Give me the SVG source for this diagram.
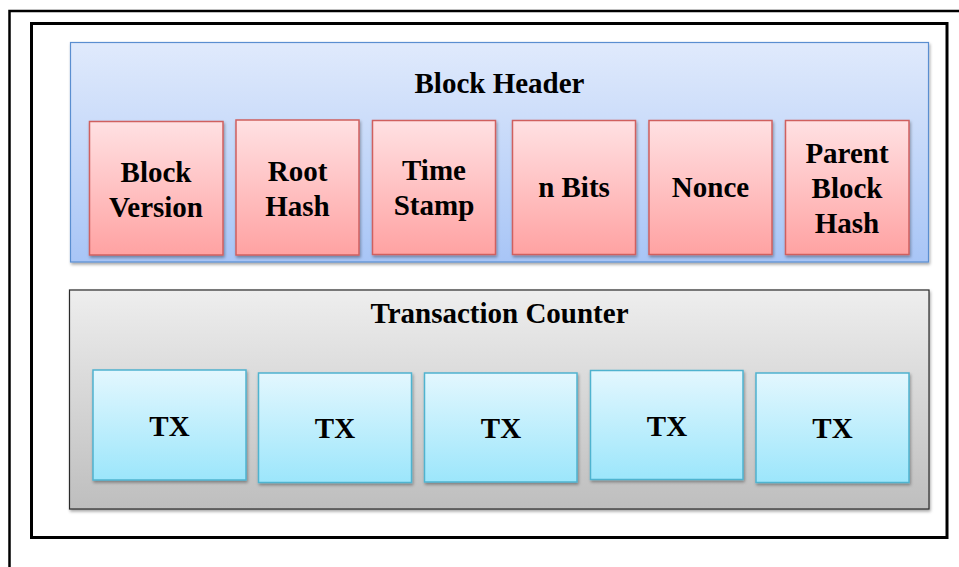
<svg xmlns="http://www.w3.org/2000/svg" width="959" height="567" viewBox="0 0 959 567">
<defs>
<linearGradient id="gBlue" x1="0" y1="0" x2="0" y2="1"><stop offset="0" stop-color="#e0eafc"/><stop offset="1" stop-color="#a8c5f6"/></linearGradient>
<linearGradient id="gRed" x1="0" y1="0" x2="0" y2="1"><stop offset="0" stop-color="#ffe1e3"/><stop offset="1" stop-color="#ffa2a2"/></linearGradient>
<linearGradient id="gGray" x1="0" y1="0" x2="0" y2="1"><stop offset="0" stop-color="#eeeeee"/><stop offset="1" stop-color="#bebebe"/></linearGradient>
<linearGradient id="gCyan" x1="0" y1="0" x2="0" y2="1"><stop offset="0" stop-color="#e3f7fe"/><stop offset="1" stop-color="#9ce6fb"/></linearGradient>
<filter id="sh" x="-10%" y="-10%" width="130%" height="130%"><feDropShadow dx="1" dy="2" stdDeviation="1.5" flood-color="#000" flood-opacity="0.35"/></filter>
</defs>
<style>
text{font-family:"Liberation Serif","Times New Roman",serif;font-weight:bold;font-size:29px;fill:#000;text-anchor:middle}
.frame{fill:none;stroke:#000}
.blue{fill:url(#gBlue);stroke:#5a8ed0;stroke-width:1.2}
.red{fill:url(#gRed);stroke:#d0605f;stroke-width:1.5}
.gray{fill:url(#gGray);stroke:#2a2a2a;stroke-width:1.2}
.cyan{fill:url(#gCyan);stroke:#4fb3cf;stroke-width:1.5}
</style>
<rect width="959" height="567" fill="#fff"/>
<g id="outer-frame">
<path class="frame" stroke-width="2.5" d="M9.5 580 V11 H970"/>
</g>
<g id="inner-frame">
<rect class="frame" stroke-width="3" x="31.5" y="23.5" width="915.5" height="514"/>
</g>
<g id="block-header">
<rect class="blue" filter="url(#sh)" x="70.5" y="42.5" width="858" height="219.5"/>
<text x="499.5" y="93">Block Header</text>
</g>
<g id="block-version">
<rect class="red" filter="url(#sh)" x="89.5" y="121.5" width="133.5" height="133.5"/>
<text x="156" y="182">Block</text><text x="156" y="217">Version</text>
</g>
<g id="root-hash">
<rect class="red" filter="url(#sh)" x="236" y="120" width="123" height="135"/>
<text x="297.5" y="181">Root</text><text x="297.5" y="216">Hash</text>
</g>
<g id="time-stamp">
<rect class="red" filter="url(#sh)" x="372.5" y="120.5" width="123" height="134"/>
<text x="434" y="180">Time</text><text x="434" y="215">Stamp</text>
</g>
<g id="n-bits">
<rect class="red" filter="url(#sh)" x="512.5" y="120.5" width="123" height="134"/>
<text x="574" y="197">n Bits</text>
</g>
<g id="nonce">
<rect class="red" filter="url(#sh)" x="649" y="120.5" width="123" height="134"/>
<text x="710.5" y="197">Nonce</text>
</g>
<g id="parent-block-hash">
<rect class="red" filter="url(#sh)" x="785.5" y="120.5" width="123.5" height="134"/>
<text x="847" y="163">Parent</text><text x="847" y="198">Block</text><text x="847" y="233">Hash</text>
</g>
<g id="transaction-counter">
<rect class="gray" filter="url(#sh)" x="69.5" y="290" width="859.5" height="219"/>
<text x="499.5" y="323">Transaction Counter</text>
</g>
<g id="tx1">
<rect class="cyan" filter="url(#sh)" x="93" y="370" width="153" height="110"/>
<text x="169.5" y="436">TX</text>
</g>
<g id="tx2">
<rect class="cyan" filter="url(#sh)" x="258.5" y="373" width="153" height="109.5"/>
<text x="335" y="438">TX</text>
</g>
<g id="tx3">
<rect class="cyan" filter="url(#sh)" x="424.5" y="373" width="152.5" height="109"/>
<text x="501" y="438">TX</text>
</g>
<g id="tx4">
<rect class="cyan" filter="url(#sh)" x="590.5" y="370.5" width="152.5" height="109"/>
<text x="667" y="436">TX</text>
</g>
<g id="tx5">
<rect class="cyan" filter="url(#sh)" x="756" y="373" width="153" height="109.5"/>
<text x="832.5" y="438">TX</text>
</g>
<g id="connectors"/>
</svg>
